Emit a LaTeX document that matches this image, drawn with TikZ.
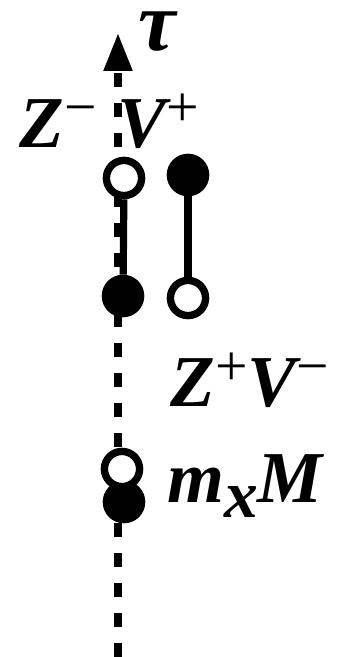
\documentclass[tikz,border=0pt]{standalone}
\usepackage{fontspec}
\setmainfont{Liberation Serif}
\usetikzlibrary{arrows.meta}

\newcommand{\sgnup}[1]{\raisebox{0.3em}{\fontsize{41}{46}\selectfont\upshape\mdseries #1}}

\begin{document}
\begin{tikzpicture}
  \useasboundingbox (0,0) rectangle (8.575,16.425);
  \tikzset{lbl/.style={font=\fontsize{52}{60}\selectfont\bfseries\itshape, inner sep=0pt, anchor=base}}

 % time axis
  \coordinate (axbot) at (2.95, 0);
  \coordinate (axtop) at (2.95, 15.6);
  \draw[line width=0.19cm, dash pattern=on 0.35cm off 0.4cm,
    -{Triangle[length=0.95cm, width=0.68cm]}] (axbot) -- (axtop);
  \node[lbl, font=\fontsize{60}{64}\selectfont\bfseries\itshape] (tau) at (3.925, 15.15) {τ};

% poles
  \tikzset{openpole/.style={circle, draw, line width=0.185cm, fill=white,
      minimum size=0.88cm, inner sep=0pt},
    fullpole/.style={openpole, fill=black}}
  \node[fullpole] (mlow) at (3.1, 3.875) {};
  \node[openpole] (mup) at (3.05, 4.7) {};

  \node[openpole] (zup) at (3.1, 11.975) {};
  \node[fullpole] (zlow) at (3.075, 9.025) {};
  \node[fullpole] (vup) at (4.7, 12.05) {};
  \node[openpole] (vlow) at (4.7, 8.975) {};

% links
  \draw[line width=0.18cm] (zup) -- (zlow);
  \draw[line width=0.18cm] (vup) -- (vlow);

%labels
  \node[lbl] (zminus) at (1.45, 12.725) {Z\sgnup{−}};
  \node[lbl] (vplus) at (3.95, 12.725) {V\sgnup{+}};
  \node[lbl] (zpvm) at (6.25, 6.25) {Z\sgnup{+}V\sgnup{−}};
  \node[lbl] (mxm) at (6.125, 3.85) {m\raisebox{-0.2em}{\fontsize{48}{50}\selectfont x}M};

\end{tikzpicture}
\end{document}
